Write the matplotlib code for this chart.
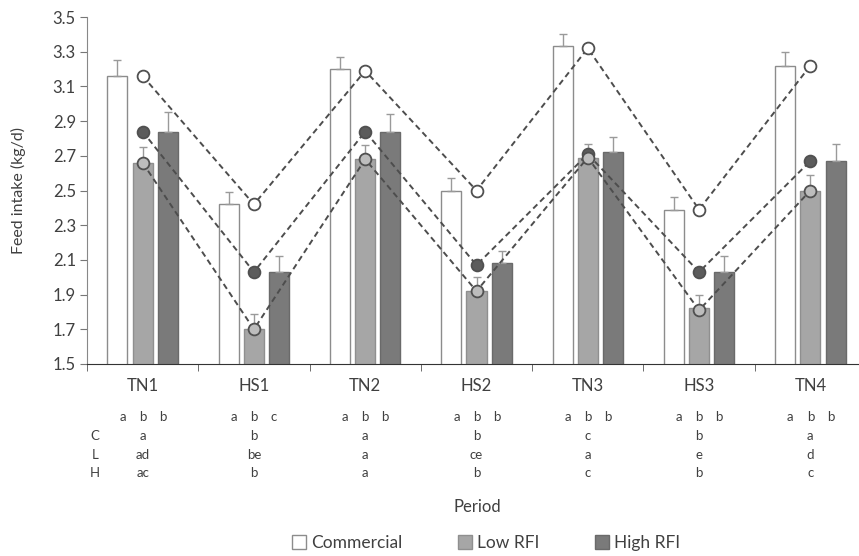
import matplotlib
matplotlib.use("Agg")
import matplotlib.pyplot as plt
import matplotlib.transforms as mtransforms
from matplotlib.patches import Patch
import numpy as np

FONT = ["Lato", "DejaVu Sans"]
plt.rcParams["font.family"] = FONT

# ── Data ─────────────────────────────────────────────────────────────────────
periods = ["TN1", "HS1", "TN2", "HS2", "TN3", "HS3", "TN4"]

commercial     = [3.16, 2.42, 3.20, 2.50, 3.33, 2.39, 3.22]
commercial_err = [0.09, 0.07, 0.07, 0.07, 0.07, 0.07, 0.08]
low_rfi        = [2.66, 1.70, 2.68, 1.92, 2.69, 1.82, 2.50]
low_rfi_err    = [0.09, 0.09, 0.08, 0.08, 0.08, 0.08, 0.09]
high_rfi       = [2.84, 2.03, 2.84, 2.08, 2.72, 2.03, 2.67]
high_rfi_err   = [0.11, 0.09, 0.10, 0.07, 0.09, 0.09, 0.10]

# means plotted as connected markers
comm_pts = [3.16, 2.42, 3.19, 2.50, 3.32, 2.39, 3.22]
low_pts  = [2.66, 1.70, 2.68, 1.92, 2.69, 1.81, 2.50]
high_pts = [2.84, 2.03, 2.84, 2.07, 2.71, 2.03, 2.67]

# significance letters (within period: commercial / low / high)
sig_comm = ["a", "a", "a", "a", "a", "a", "a"]
sig_low  = ["b", "b", "b", "b", "b", "b", "b"]
sig_high = ["b", "c", "b", "b", "b", "b", "b"]
row_c = ["a", "b", "a", "b", "c", "b", "a"]
row_l = ["ad", "be", "a", "ce", "a", "e", "d"]
row_h = ["ac", "b", "a", "b", "c", "b", "c"]

# ── Palette ──────────────────────────────────────────────────────────────────
EDGE   = "#8c8c8c"
LOW    = "#a6a6a6"
HIGH   = "#7a7a7a"
LINE   = "#4d4d4d"
TXT    = "#404040"

W, H = 859, 556
fig = plt.figure(figsize=(W / 100, H / 100), dpi=100)
ax = fig.add_axes([87 / W, 1 - 364 / H, (866 - 87) / W, (364 - 17) / H])

x = np.arange(len(periods))
off, bw = 0.227, 0.18
err_kw = dict(ecolor="#9a9a9a", elinewidth=1.0, capsize=3, capthick=1.0)

ax.bar(x - off, commercial, bw, color="white", edgecolor=EDGE, linewidth=1.0,
       yerr=[np.zeros(7), commercial_err], error_kw=err_kw, zorder=2)
ax.bar(x, low_rfi, bw, color=LOW, edgecolor="#8f8f8f", linewidth=1.0,
       yerr=[np.zeros(7), low_rfi_err], error_kw=err_kw, zorder=2)
ax.bar(x + off, high_rfi, bw, color=HIGH, edgecolor="#6a6a6a", linewidth=1.0,
       yerr=[np.zeros(7), high_rfi_err], error_kw=err_kw, zorder=2)

for pts, fc in [(comm_pts, "white"), (high_pts, "#5c5c5c"), (low_pts, "#bdbdbd")]:
    ax.plot(x, pts, linestyle=(0, (3, 2)), color=LINE, linewidth=1.4, zorder=3)
    ax.plot(x, pts, linestyle="none", marker="o", markersize=8.5,
            markerfacecolor=fc, markeredgecolor="#505050", markeredgewidth=1.3, zorder=4)

ax.set_xlim(-0.5, 6.5)
ax.set_ylim(1.5, 3.5)
ax.set_yticks(np.arange(1.5, 3.51, 0.2))
ax.yaxis.set_major_formatter(matplotlib.ticker.FormatStrFormatter("%.1f"))
ax.set_xticks(x)
ax.set_xticklabels(periods)
ax.set_xticks(np.arange(-0.5, 7, 1), minor=True)
ax.tick_params(axis="x", which="major", length=0, pad=10, labelsize=12, colors=TXT)
ax.tick_params(axis="x", which="minor", length=5, direction="out", color="#555555")
ax.tick_params(axis="y", length=5, direction="out", labelsize=12, colors=TXT,
               color="#777777", pad=3)
for s in ["top", "right"]:
    ax.spines[s].set_visible(False)
ax.spines["left"].set_color("#888888")
ax.spines["bottom"].set_color("#333333")

# significance text rows
tr = mtransforms.blended_transform_factory(ax.transData, fig.transFigure)
y_sig = 1 - 417 / H
for dx, labels in [(-0.18, sig_comm), (0.0, sig_low), (0.18, sig_high)]:
    for xi, lab in zip(x, labels):
        ax.text(xi + dx, y_sig, lab, transform=tr, ha="center", va="center",
                fontsize=9.5, color=TXT)
for ypix, labels in [(436, row_c), (455, row_l), (473, row_h)]:
    for xi, lab in zip(x, labels):
        ax.text(xi, 1 - ypix / H, lab, transform=tr, ha="center", va="center",
                fontsize=9.5, color=TXT)
for ypix, lab in [(436, "C"), (455, "L"), (473, "H")]:
    fig.text(95 / W, 1 - ypix / H, lab, ha="center", va="center", fontsize=9.5, color=TXT)

fig.text(477 / W, 1 - 507 / H, "Period", ha="center", va="center", fontsize=12, color=TXT)
fig.text(18 / W, 1 - 190 / H, "Feed intake (kg/d)", rotation=90, ha="center",
         va="center", fontsize=11.5, color=TXT)

handles = [Patch(facecolor="white", edgecolor=EDGE, label="Commercial"),
           Patch(facecolor=LOW, edgecolor="#8f8f8f", label="Low RFI"),
           Patch(facecolor=HIGH, edgecolor="#6a6a6a", label="High RFI")]
leg = fig.legend(handles=handles, loc="center", bbox_to_anchor=(486 / W, 1 - 543 / H),
                 ncol=3, frameon=False, handlelength=0.8, handleheight=0.8,
                 handletextpad=0.3, columnspacing=3.2, fontsize=12.5)
for t in leg.get_texts():
    t.set_color(TXT)

fig.savefig("out.png", dpi=100)
